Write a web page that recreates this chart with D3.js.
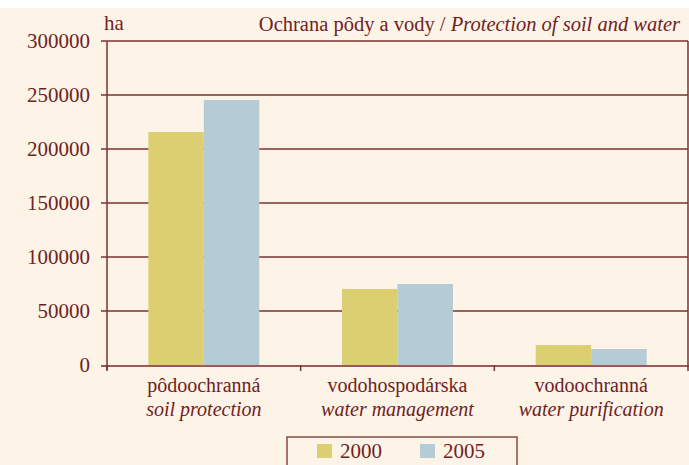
<!DOCTYPE html>
<html>
<head>
<meta charset="utf-8">
<script src="https://cdn.jsdelivr.net/npm/d3@7"></script>
<style>
  body { margin: 0; background: #fff; }
  svg text { font-family: "Liberation Serif", serif; fill: #6e2224; }
</style>
</head>
<body>
<div id="chart"></div>
<script>
// data
const categories = ["pôdoochranná", "vodohospodárska", "vodoochranná"]
const categoriesEn = ["soil protection", "water management", "water purification"]
const years = ["2000", "2005"]
const values2000 = [215700, 70400, 18500]
const values2005 = [245400, 75000, 14800]
const yTicks = [0, 50000, 100000, 150000, 200000, 250000, 300000]
const colors = ["#dccf72", "#b5cbd6"]

const width = 689, height = 465
const mLeft = 107, mRight = 688, mTop = 41, mBottom = 365

const svg = d3.select("#chart").append("svg")
    .attr("width", width)
    .attr("height", height)
    .attr("font-family", "Liberation Serif, serif")

svg.append("rect")
    .attr("x", 0).attr("y", 8)
    .attr("width", width).attr("height", height - 8)
    .attr("fill", "#fef3e7")

const y = d3.scaleLinear().domain([0, 300000]).range([mBottom, mTop])
const x0 = d3.scaleBand().domain(categories).range([mLeft, mRight]).padding(0)
const x1 = d3.scaleBand().domain(years).range([0, x0.bandwidth()])
    .paddingInner(0).paddingOuter(0.745)

// gridlines
svg.append("g").selectAll("line")
  .data(yTicks.filter(d => d > 0))
  .enter().append("line")
    .attr("x1", mLeft - 6).attr("x2", mRight)
    .attr("y1", d => y(d)).attr("y2", d => y(d))
    .attr("stroke", "#7a3333").attr("stroke-width", 1.5)

// right frame
svg.append("line")
    .attr("x1", mRight).attr("x2", mRight)
    .attr("y1", mTop).attr("y2", mBottom + 2)
    .attr("stroke", "#7a3333").attr("stroke-width", 1.5)

// bars
const rows = categories.map((c, i) => ({cat: c, vals: [values2000[i], values2005[i]]}))
svg.append("g").selectAll("g")
  .data(rows)
  .enter().append("g")
    .attr("transform", d => `translate(${x0(d.cat)},0)`)
  .selectAll("rect")
  .data(d => d.vals.map((v, j) => ({year: years[j], v: v, j: j})))
  .enter().append("rect")
    .attr("x", d => x1(d.year))
    .attr("width", x1.bandwidth())
    .attr("y", d => y(d.v))
    .attr("height", d => y(0) - y(d.v))
    .attr("fill", d => colors[d.j])

// baseline + x ticks
svg.append("line")
    .attr("x1", mLeft - 6).attr("x2", mRight)
    .attr("y1", y(0) + 1).attr("y2", y(0) + 1)
    .attr("stroke", "#9a5a5a").attr("stroke-width", 2)
svg.append("g").selectAll("line")
  .data([0, 1, 2, 3])
  .enter().append("line")
    .attr("x1", d => mLeft + d * x0.step())
    .attr("x2", d => mLeft + d * x0.step())
    .attr("y1", y(0)).attr("y2", y(0) + 6)
    .attr("stroke", "#7a3333").attr("stroke-width", 1.5)

// y axis
svg.append("line")
    .attr("x1", mLeft).attr("x2", mLeft)
    .attr("y1", mTop).attr("y2", mBottom + 5)
    .attr("stroke", "#7a3333").attr("stroke-width", 1.5)
svg.append("g").selectAll("text")
  .data(yTicks)
  .enter().append("text")
    .attr("x", 90)
    .attr("y", d => y(d))
    .attr("dy", "0.34em")
    .attr("text-anchor", "end")
    .style("font-size", "21px")
    .text(d => d)

svg.append("text")
    .attr("x", 104).attr("y", 30)
    .style("font-size", "21px")
    .text("ha")

const title = svg.append("text")
    .attr("x", 680).attr("y", 31)
    .attr("text-anchor", "end")
    .style("font-size", "20.5px")
title.append("tspan").text("Ochrana pôdy a vody / ")
title.append("tspan").style("font-style", "italic").text("Protection of soil and water")

// category labels
const lab = svg.append("g").selectAll("g")
  .data(categories)
  .enter().append("g")
lab.append("text")
    .attr("x", d => x0(d) + x0.bandwidth() / 2)
    .attr("y", 392)
    .attr("text-anchor", "middle")
    .style("font-size", "20px")
    .text(d => d)
lab.append("text")
    .attr("x", d => x0(d) + x0.bandwidth() / 2)
    .attr("y", 416)
    .attr("text-anchor", "middle")
    .style("font-size", "20px")
    .style("font-style", "italic")
    .text((d, i) => categoriesEn[i])

// legend
svg.append("rect")
    .attr("x", 287).attr("y", 437)
    .attr("width", 230).attr("height", 40)
    .attr("fill", "none")
    .attr("stroke", "#8a4a4a").attr("stroke-width", 1.5)
const items = svg.append("g").selectAll("g")
  .data(years)
  .enter().append("g")
    .attr("transform", (d, i) => `translate(${317 + i * 103},444)`)
items.append("rect")
    .attr("width", 15).attr("height", 14)
    .attr("fill", (d, i) => colors[i])
items.append("text")
    .attr("x", 23).attr("y", 13.5)
    .style("font-size", "21px")
    .text(d => d)
</script>
</body>
</html>
